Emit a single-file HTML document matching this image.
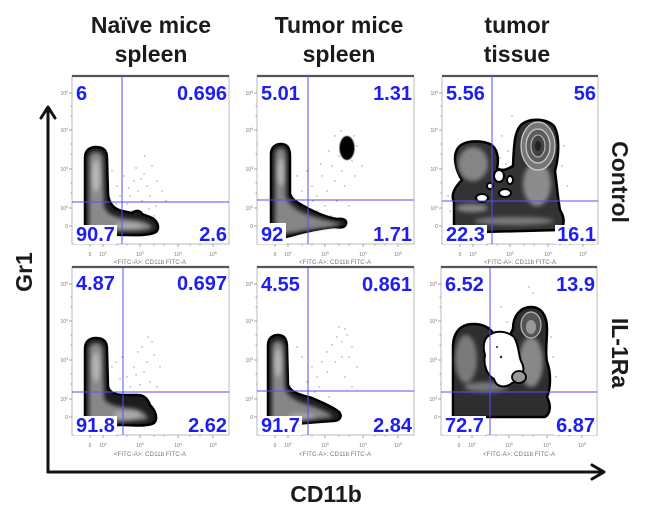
<!DOCTYPE html>
<html><head><meta charset="utf-8"><style>
html,body{margin:0;padding:0;background:#fff;}
svg{display:block;}
.t{font-family:"Liberation Sans",Arial,sans-serif;font-weight:bold;fill:#1b1b1b;font-size:23px;}
.q{font-family:"Liberation Sans",Arial,sans-serif;font-weight:bold;fill:#1e1ef0;font-size:20px;}
.k{font-family:"Liberation Sans",Arial,sans-serif;fill:#777;font-size:5px;}
.ax{font-family:"Liberation Sans",Arial,sans-serif;fill:#777;font-size:6.3px;}
</style></head><body>
<svg width="654" height="516" viewBox="0 0 654 516" xmlns="http://www.w3.org/2000/svg">
<defs>
<filter id="b" x="-20%" y="-20%" width="140%" height="140%"><feGaussianBlur stdDeviation="2"/></filter>
<filter id="b1" x="-20%" y="-20%" width="140%" height="140%"><feGaussianBlur stdDeviation="0.6"/></filter>
</defs>
<rect width="654" height="516" fill="#fff"/>

<!-- Titles -->
<text class="t" x="151" y="33" text-anchor="middle">Naïve mice</text>
<text class="t" x="151" y="62" text-anchor="middle">spleen</text>
<text class="t" x="339" y="33" text-anchor="middle">Tumor mice</text>
<text class="t" x="339" y="62" text-anchor="middle">spleen</text>
<text class="t" x="517" y="33" text-anchor="middle">tumor</text>
<text class="t" x="517" y="62" text-anchor="middle">tissue</text>

<!-- Row labels -->
<text class="t" transform="translate(612,182) rotate(90)" text-anchor="middle">Control</text>
<text class="t" transform="translate(612,353) rotate(90)" text-anchor="middle">IL-1Ra</text>
<text class="t" transform="translate(32,272) rotate(-90)" text-anchor="middle">Gr1</text>
<text class="t" x="326" y="502" text-anchor="middle">CD11b</text>

<!-- Big axes -->
<g stroke="#111" stroke-width="3" fill="none" stroke-linecap="round" stroke-linejoin="round">
<path d="M48,472 L48,108"/>
<path d="M41,118 L48,107 L55,118"/>
<path d="M48,472 L603,472"/>
<path d="M592,465 L604,472 L592,479"/>
</g>

<!-- ================= PANEL 1 (naive, control) ================= -->
<g transform="translate(72,76)">
<rect x="0" y="0" width="157" height="168" fill="#fff" stroke="#aaa" stroke-width="0.8"/>
<line x1="0" y1="0" x2="157" y2="0" stroke="#555" stroke-width="2.2"/>
<g stroke="#888" stroke-width="0.7">
<path d="M0,17 h-3 M0,54 h-3 M0,93 h-3 M0,132 h-3 M0,150 h-3 M18,168 v3 M31,168 v3 M68,168 v3 M106,168 v3 M141,168 v3"/>
<path d="M0,30 h-1.5 M0,40 h-1.5 M0,68 h-1.5 M0,78 h-1.5 M0,107 h-1.5 M0,117 h-1.5 M45,168 v1.5 M55,168 v1.5 M82,168 v1.5 M92,168 v1.5 M118,168 v1.5 M128,168 v1.5"/>
</g>
<g fill="#999">
<circle cx="40" cy="95" r="0.7"/><circle cx="45" cy="110" r="0.7"/><circle cx="52" cy="100" r="0.7"/><circle cx="58" cy="120" r="0.7"/><circle cx="62" cy="105" r="0.7"/><circle cx="66" cy="115" r="0.7"/><circle cx="70" cy="125" r="0.7"/><circle cx="72" cy="98" r="0.7"/><circle cx="75" cy="110" r="0.7"/><circle cx="78" cy="120" r="0.7"/><circle cx="80" cy="90" r="0.7"/><circle cx="84" cy="130" r="0.7"/><circle cx="60" cy="135" r="0.7"/><circle cx="55" cy="128" r="0.7"/><circle cx="68" cy="140" r="0.7"/><circle cx="48" cy="120" r="0.7"/><circle cx="90" cy="115" r="0.7"/><circle cx="73" cy="80" r="0.7"/><circle cx="85" cy="105" r="0.7"/><circle cx="64" cy="92" r="0.7"/><circle cx="57" cy="112" r="0.7"/><circle cx="77" cy="133" r="0.7"/><circle cx="82" cy="140" r="0.7"/><circle cx="69" cy="103" r="0.7"/><circle cx="94" cy="125" r="0.7"/><circle cx="40" cy="140" r="0.7"/><circle cx="44" cy="128" r="0.7"/>
</g>
<path d="M13,158 L13,82 C13,74 18,71 24,71 C31,71 35,74 35,82 L36,118 C37,128 42,133 50,135 L60,137 C64,134 68,134 70,138 L78,141 C86,144 88,152 84,156 C78,160 60,159 50,159 Z" fill="#1c1c1c" stroke="#000" stroke-width="2.5"/>
<g filter="url(#b)">
<path d="M17,155 L17,84 C17,78 20,76 24,76 C29,76 31,79 31,86 L32,130 C34,138 44,142 56,143 C66,144 76,146 80,150 C80,154 70,155 60,155 Z" fill="#8a8a8a"/>
<ellipse cx="24" cy="100" rx="4" ry="16" fill="#b8b8b8"/>
<ellipse cx="56" cy="150" rx="14" ry="3" fill="#aaa"/>
</g>
<line x1="50" y1="0" x2="50" y2="168" stroke="#5050ff" stroke-width="1"/>
<line x1="0" y1="126" x2="157" y2="126" stroke="#5050ff" stroke-width="1"/>
<rect x="3" y="5" width="15" height="20" fill="#fff"/>
<text class="q" x="4" y="24">6</text>
<text class="q" x="155" y="24" text-anchor="end">0.696</text>
<rect x="2" y="149" width="43" height="19" fill="#fff"/>
<text class="q" x="4" y="165">90.7</text>
<text class="q" x="155" y="165" text-anchor="end">2.6</text>
<g class="k" text-anchor="end">
<text x="-4" y="19">10<tspan dy="-2" font-size="3.5">5</tspan></text>
<text x="-4" y="56">10<tspan dy="-2" font-size="3.5">4</tspan></text>
<text x="-4" y="95">10<tspan dy="-2" font-size="3.5">3</tspan></text>
<text x="-4" y="134">10<tspan dy="-2" font-size="3.5">2</tspan></text>
<text x="-4" y="152">0</text>
</g>
<g class="k" text-anchor="middle">
<text x="18" y="180">0</text>
<text x="31" y="180">10<tspan dy="-2" font-size="3.5">2</tspan></text>
<text x="68" y="180">10<tspan dy="-2" font-size="3.5">3</tspan></text>
<text x="106" y="180">10<tspan dy="-2" font-size="3.5">4</tspan></text>
<text x="141" y="180">10<tspan dy="-2" font-size="3.5">5</tspan></text>
</g>
<text class="ax" x="78" y="188" text-anchor="middle">&lt;FITC-A&gt;: CD11b FITC-A</text>
</g>

<!-- ================= PANEL 2 (tumor spleen, control) ================= -->
<g transform="translate(257,76)">
<rect x="0" y="0" width="157" height="168" fill="#fff" stroke="#aaa" stroke-width="0.8"/>
<line x1="0" y1="0" x2="157" y2="0" stroke="#555" stroke-width="2.2"/>
<g stroke="#888" stroke-width="0.7">
<path d="M0,17 h-3 M0,54 h-3 M0,93 h-3 M0,132 h-3 M0,150 h-3 M18,168 v3 M31,168 v3 M68,168 v3 M106,168 v3 M141,168 v3"/>
<path d="M0,30 h-1.5 M0,40 h-1.5 M0,68 h-1.5 M0,78 h-1.5 M0,107 h-1.5 M0,117 h-1.5 M45,168 v1.5 M55,168 v1.5 M82,168 v1.5 M92,168 v1.5 M118,168 v1.5 M128,168 v1.5"/>
</g>
<g fill="#999">
<circle cx="40" cy="100" r="0.7"/><circle cx="50" cy="95" r="0.7"/><circle cx="55" cy="110" r="0.7"/><circle cx="60" cy="120" r="0.7"/><circle cx="65" cy="100" r="0.7"/><circle cx="70" cy="115" r="0.7"/><circle cx="75" cy="90" r="0.7"/><circle cx="78" cy="105" r="0.7"/><circle cx="80" cy="125" r="0.7"/><circle cx="85" cy="95" r="0.7"/><circle cx="95" cy="85" r="0.7"/><circle cx="100" cy="70" r="0.7"/><circle cx="78" cy="60" r="0.7"/><circle cx="72" cy="75" r="0.7"/><circle cx="105" cy="90" r="0.7"/><circle cx="60" cy="135" r="0.7"/><circle cx="68" cy="130" r="0.7"/><circle cx="88" cy="110" r="0.7"/><circle cx="45" cy="115" r="0.7"/><circle cx="92" cy="130" r="0.7"/><circle cx="82" cy="80" r="0.7"/><circle cx="64" cy="88" r="0.7"/><circle cx="98" cy="100" r="0.7"/><circle cx="74" cy="140" r="0.7"/><circle cx="56" cy="125" r="0.7"/><circle cx="97" cy="60" r="0.7"/><circle cx="84" cy="55" r="0.7"/>
</g>
<path d="M14,162 L14,78 C14,71 19,68 24,68 C30,68 33,72 33,80 L33,118 C36,126 44,128 52,133 C62,138 72,142 80,143 C86,142 90,144 89,148 C88,152 83,152 78,151 C66,152 52,155 40,158 C30,161 20,163 14,162 Z" fill="#1c1c1c" stroke="#000" stroke-width="2.5"/>
<g filter="url(#b)">
<path d="M18,158 L18,80 C18,74 21,72 24,72 C28,72 29,76 29,82 L29,120 C32,130 42,136 55,140 C66,144 78,146 84,148 C78,152 60,152 45,155 C35,157 25,158 18,158 Z" fill="#858585"/>
<ellipse cx="24" cy="96" rx="4" ry="14" fill="#b0b0b0"/>
</g>
<ellipse cx="90" cy="72" rx="7.5" ry="12" fill="#000" filter="url(#b1)"/>
<line x1="51" y1="0" x2="51" y2="168" stroke="#5050ff" stroke-width="1"/>
<line x1="0" y1="124" x2="157" y2="124" stroke="#5050ff" stroke-width="1"/>
<rect x="2" y="5" width="44" height="20" fill="#fff"/>
<text class="q" x="4" y="24">5.01</text>
<text class="q" x="155" y="24" text-anchor="end">1.31</text>
<rect x="1" y="147" width="28" height="21" fill="#fff"/>
<text class="q" x="4" y="165">92</text>
<text class="q" x="155" y="165" text-anchor="end">1.71</text>
<g class="k" text-anchor="end">
<text x="-4" y="19">10<tspan dy="-2" font-size="3.5">5</tspan></text>
<text x="-4" y="56">10<tspan dy="-2" font-size="3.5">4</tspan></text>
<text x="-4" y="95">10<tspan dy="-2" font-size="3.5">3</tspan></text>
<text x="-4" y="134">10<tspan dy="-2" font-size="3.5">2</tspan></text>
<text x="-4" y="152">0</text>
</g>
<g class="k" text-anchor="middle">
<text x="18" y="180">0</text>
<text x="31" y="180">10<tspan dy="-2" font-size="3.5">2</tspan></text>
<text x="68" y="180">10<tspan dy="-2" font-size="3.5">3</tspan></text>
<text x="106" y="180">10<tspan dy="-2" font-size="3.5">4</tspan></text>
<text x="141" y="180">10<tspan dy="-2" font-size="3.5">5</tspan></text>
</g>
<text class="ax" x="78" y="188" text-anchor="middle">&lt;FITC-A&gt;: CD11b FITC-A</text>
</g>

<!-- ================= PANEL 3 (tumor tissue, control) ================= -->
<g transform="translate(442,76)">
<rect x="0" y="0" width="156" height="168" fill="#fff" stroke="#aaa" stroke-width="0.8"/>
<line x1="0" y1="0" x2="156" y2="0" stroke="#555" stroke-width="2.2"/>
<g stroke="#888" stroke-width="0.7">
<path d="M0,17 h-3 M0,54 h-3 M0,93 h-3 M0,132 h-3 M0,150 h-3 M18,168 v3 M31,168 v3 M68,168 v3 M106,168 v3 M141,168 v3"/>
<path d="M0,30 h-1.5 M0,40 h-1.5 M0,68 h-1.5 M0,78 h-1.5 M0,107 h-1.5 M0,117 h-1.5 M45,168 v1.5 M55,168 v1.5 M82,168 v1.5 M92,168 v1.5 M118,168 v1.5 M128,168 v1.5"/>
</g>
<g fill="#999">
<circle cx="60" cy="60" r="0.7"/><circle cx="66" cy="75" r="0.7"/><circle cx="58" cy="82" r="0.7"/><circle cx="120" cy="90" r="0.7"/><circle cx="125" cy="110" r="0.7"/><circle cx="70" cy="40" r="0.7"/><circle cx="122" cy="70" r="0.7"/><circle cx="64" cy="88" r="0.7"/><circle cx="118" cy="128" r="0.7"/><circle cx="6" cy="120" r="0.7"/><circle cx="8" cy="135" r="0.7"/>
</g>
<path d="M12,156 L12,126 C8,118 14,110 20,104 C14,95 10,80 16,72 C22,64 38,64 48,68 C56,72 57,84 55,92 C60,96 66,93 71,90 C72,70 72,55 80,48 C88,42 104,42 112,50 C118,60 117,80 113,95 C115,110 116,124 118,134 C123,142 123,150 117,154 L40,156 Z" fill="#333" stroke="#000" stroke-width="2.5"/>
<g filter="url(#b)">
<ellipse cx="31" cy="88" rx="15" ry="17" fill="#858585"/>
<ellipse cx="72" cy="145" rx="40" ry="4" fill="#7a7a7a"/>
<ellipse cx="95" cy="108" rx="14" ry="22" fill="#8c8c8c"/>
<ellipse cx="30" cy="132" rx="16" ry="4" fill="#888"/>
</g>
<ellipse cx="96" cy="70" rx="17" ry="24" fill="#777" stroke="#ccc" stroke-width="1.2"/>
<ellipse cx="96" cy="70" rx="12" ry="17" fill="#5c5c5c" stroke="#ccc" stroke-width="1.2"/>
<ellipse cx="96" cy="70" rx="7" ry="11" fill="#444" stroke="#bbb" stroke-width="1.1"/>
<ellipse cx="96" cy="70" rx="3" ry="5" fill="#222"/>
<g fill="#fff" stroke="#000" stroke-width="2">
<ellipse cx="57" cy="100" rx="5" ry="6"/>
<ellipse cx="63" cy="117" rx="6" ry="4"/>
<ellipse cx="40" cy="122" rx="6" ry="4"/>
<ellipse cx="48" cy="110" rx="3" ry="3"/>
<ellipse cx="68" cy="104" rx="3" ry="4"/>
</g>
<line x1="50" y1="0" x2="50" y2="168" stroke="#5050ff" stroke-width="1"/>
<line x1="0" y1="125" x2="156" y2="125" stroke="#5050ff" stroke-width="1"/>
<rect x="2" y="5" width="44" height="20" fill="#fff"/>
<text class="q" x="4" y="24">5.56</text>
<text class="q" x="154" y="24" text-anchor="end">56</text>
<rect x="2" y="149" width="43" height="19" fill="#fff"/>
<text class="q" x="4" y="165">22.3</text>
<rect x="113" y="149" width="42" height="19" fill="#fff"/>
<text class="q" x="154" y="165" text-anchor="end">16.1</text>
<g class="k" text-anchor="end">
<text x="-4" y="19">10<tspan dy="-2" font-size="3.5">5</tspan></text>
<text x="-4" y="56">10<tspan dy="-2" font-size="3.5">4</tspan></text>
<text x="-4" y="95">10<tspan dy="-2" font-size="3.5">3</tspan></text>
<text x="-4" y="134">10<tspan dy="-2" font-size="3.5">2</tspan></text>
<text x="-4" y="152">0</text>
</g>
<g class="k" text-anchor="middle">
<text x="18" y="180">0</text>
<text x="31" y="180">10<tspan dy="-2" font-size="3.5">2</tspan></text>
<text x="68" y="180">10<tspan dy="-2" font-size="3.5">3</tspan></text>
<text x="106" y="180">10<tspan dy="-2" font-size="3.5">4</tspan></text>
<text x="141" y="180">10<tspan dy="-2" font-size="3.5">5</tspan></text>
</g>
<text class="ax" x="78" y="188" text-anchor="middle">&lt;FITC-A&gt;: CD11b FITC-A</text>
</g>

<!-- ================= PANEL 4 (naive, IL-1Ra) ================= -->
<g transform="translate(72,267)">
<rect x="0" y="0" width="157" height="168" fill="#fff" stroke="#aaa" stroke-width="0.8"/>
<line x1="0" y1="0" x2="157" y2="0" stroke="#555" stroke-width="2.2"/>
<g stroke="#888" stroke-width="0.7">
<path d="M0,17 h-3 M0,54 h-3 M0,93 h-3 M0,132 h-3 M0,150 h-3 M18,168 v3 M31,168 v3 M68,168 v3 M106,168 v3 M141,168 v3"/>
<path d="M0,30 h-1.5 M0,40 h-1.5 M0,68 h-1.5 M0,78 h-1.5 M0,107 h-1.5 M0,117 h-1.5 M45,168 v1.5 M55,168 v1.5 M82,168 v1.5 M92,168 v1.5 M118,168 v1.5 M128,168 v1.5"/>
</g>
<g fill="#999">
<circle cx="40" cy="100" r="0.7"/><circle cx="50" cy="90" r="0.7"/><circle cx="55" cy="110" r="0.7"/><circle cx="58" cy="120" r="0.7"/><circle cx="62" cy="100" r="0.7"/><circle cx="66" cy="85" r="0.7"/><circle cx="70" cy="80" r="0.7"/><circle cx="72" cy="105" r="0.7"/><circle cx="75" cy="95" r="0.7"/><circle cx="78" cy="115" r="0.7"/><circle cx="80" cy="75" r="0.7"/><circle cx="85" cy="120" r="0.7"/><circle cx="60" cy="130" r="0.7"/><circle cx="52" cy="125" r="0.7"/><circle cx="68" cy="118" r="0.7"/><circle cx="48" cy="112" r="0.7"/><circle cx="88" cy="100" r="0.7"/><circle cx="76" cy="70" r="0.7"/><circle cx="82" cy="88" r="0.7"/><circle cx="64" cy="108" r="0.7"/><circle cx="44" cy="95" r="0.7"/>
</g>
<path d="M13,158 L13,82 C13,74 18,71 24,71 C31,71 35,74 35,82 L36,120 C38,126 44,128 52,128 L66,128 C73,128 76,133 78,138 C84,144 86,152 82,156 C76,160 60,158 50,158 Z" fill="#1c1c1c" stroke="#000" stroke-width="2.5"/>
<g filter="url(#b)">
<path d="M17,156 L17,84 C17,78 20,76 24,76 C29,76 31,79 31,86 L32,132 C36,138 46,140 58,141 C68,142 74,146 76,152 C66,154 50,155 17,156 Z" fill="#888"/>
<ellipse cx="24" cy="100" rx="4" ry="15" fill="#b4b4b4"/>
<ellipse cx="55" cy="148" rx="14" ry="4" fill="#aaa"/>
</g>
<line x1="51" y1="0" x2="51" y2="168" stroke="#5050ff" stroke-width="1"/>
<line x1="0" y1="125" x2="157" y2="125" stroke="#5050ff" stroke-width="1"/>
<rect x="2" y="5" width="44" height="20" fill="#fff"/>
<text class="q" x="4" y="23">4.87</text>
<text class="q" x="155" y="23" text-anchor="end">0.697</text>
<rect x="2" y="149" width="43" height="19" fill="#fff"/>
<text class="q" x="4" y="165">91.8</text>
<text class="q" x="155" y="165" text-anchor="end">2.62</text>
<g class="k" text-anchor="end">
<text x="-4" y="19">10<tspan dy="-2" font-size="3.5">5</tspan></text>
<text x="-4" y="56">10<tspan dy="-2" font-size="3.5">4</tspan></text>
<text x="-4" y="95">10<tspan dy="-2" font-size="3.5">3</tspan></text>
<text x="-4" y="134">10<tspan dy="-2" font-size="3.5">2</tspan></text>
<text x="-4" y="152">0</text>
</g>
<g class="k" text-anchor="middle">
<text x="18" y="180">0</text>
<text x="31" y="180">10<tspan dy="-2" font-size="3.5">2</tspan></text>
<text x="68" y="180">10<tspan dy="-2" font-size="3.5">3</tspan></text>
<text x="106" y="180">10<tspan dy="-2" font-size="3.5">4</tspan></text>
<text x="141" y="180">10<tspan dy="-2" font-size="3.5">5</tspan></text>
</g>
<text class="ax" x="78" y="189" text-anchor="middle">&lt;FITC-A&gt;: CD11b FITC-A</text>
</g>

<!-- ================= PANEL 5 (tumor spleen, IL-1Ra) ================= -->
<g transform="translate(257,267)">
<rect x="0" y="0" width="157" height="168" fill="#fff" stroke="#aaa" stroke-width="0.8"/>
<line x1="0" y1="0" x2="157" y2="0" stroke="#555" stroke-width="2.2"/>
<g stroke="#888" stroke-width="0.7">
<path d="M0,17 h-3 M0,54 h-3 M0,93 h-3 M0,132 h-3 M0,150 h-3 M18,168 v3 M31,168 v3 M68,168 v3 M106,168 v3 M141,168 v3"/>
<path d="M0,30 h-1.5 M0,40 h-1.5 M0,68 h-1.5 M0,78 h-1.5 M0,107 h-1.5 M0,117 h-1.5 M45,168 v1.5 M55,168 v1.5 M82,168 v1.5 M92,168 v1.5 M118,168 v1.5 M128,168 v1.5"/>
</g>
<g fill="#999">
<circle cx="45" cy="90" r="0.7"/><circle cx="55" cy="100" r="0.7"/><circle cx="60" cy="110" r="0.7"/><circle cx="65" cy="95" r="0.7"/><circle cx="70" cy="85" r="0.7"/><circle cx="75" cy="78" r="0.7"/><circle cx="80" cy="70" r="0.7"/><circle cx="85" cy="75" r="0.7"/><circle cx="90" cy="68" r="0.7"/><circle cx="95" cy="80" r="0.7"/><circle cx="62" cy="120" r="0.7"/><circle cx="70" cy="105" r="0.7"/><circle cx="78" cy="95" r="0.7"/><circle cx="85" cy="90" r="0.7"/><circle cx="88" cy="110" r="0.7"/><circle cx="50" cy="115" r="0.7"/><circle cx="58" cy="125" r="0.7"/><circle cx="95" cy="120" r="0.7"/><circle cx="100" cy="100" r="0.7"/><circle cx="72" cy="130" r="0.7"/><circle cx="82" cy="60" r="0.7"/><circle cx="92" cy="90" r="0.7"/><circle cx="88" cy="62" r="0.7"/><circle cx="40" cy="80" r="0.7"/>
</g>
<path d="M11,158 L11,78 C11,71 16,68 21,68 C27,68 30,72 30,80 L31,118 C34,126 44,128 55,131 C66,136 76,140 82,145 C86,150 82,154 76,154 C60,155 45,156 30,158 Z" fill="#1c1c1c" stroke="#000" stroke-width="2.5"/>
<g filter="url(#b)">
<path d="M15,156 L15,82 C15,76 18,74 21,74 C25,74 27,78 27,84 L28,122 C32,132 45,136 58,140 C68,144 74,147 76,150 C60,152 40,154 15,156 Z" fill="#868686"/>
<ellipse cx="21" cy="96" rx="4" ry="14" fill="#b2b2b2"/>
<ellipse cx="45" cy="150" rx="14" ry="3" fill="#aaa"/>
</g>
<line x1="51" y1="0" x2="51" y2="168" stroke="#5050ff" stroke-width="1"/>
<line x1="0" y1="124" x2="157" y2="124" stroke="#5050ff" stroke-width="1"/>
<rect x="2" y="5" width="44" height="20" fill="#fff"/>
<text class="q" x="4" y="24">4.55</text>
<text class="q" x="155" y="24" text-anchor="end">0.861</text>
<rect x="2" y="149" width="43" height="19" fill="#fff"/>
<text class="q" x="4" y="165">91.7</text>
<text class="q" x="155" y="165" text-anchor="end">2.84</text>
<g class="k" text-anchor="end">
<text x="-4" y="19">10<tspan dy="-2" font-size="3.5">5</tspan></text>
<text x="-4" y="56">10<tspan dy="-2" font-size="3.5">4</tspan></text>
<text x="-4" y="95">10<tspan dy="-2" font-size="3.5">3</tspan></text>
<text x="-4" y="134">10<tspan dy="-2" font-size="3.5">2</tspan></text>
<text x="-4" y="152">0</text>
</g>
<g class="k" text-anchor="middle">
<text x="18" y="180">0</text>
<text x="31" y="180">10<tspan dy="-2" font-size="3.5">2</tspan></text>
<text x="68" y="180">10<tspan dy="-2" font-size="3.5">3</tspan></text>
<text x="106" y="180">10<tspan dy="-2" font-size="3.5">4</tspan></text>
<text x="141" y="180">10<tspan dy="-2" font-size="3.5">5</tspan></text>
</g>
<text class="ax" x="78" y="189" text-anchor="middle">&lt;FITC-A&gt;: CD11b FITC-A</text>
</g>

<!-- ================= PANEL 6 (tumor tissue, IL-1Ra) ================= -->
<g transform="translate(441,267)">
<rect x="0" y="0" width="156" height="168" fill="#fff" stroke="#aaa" stroke-width="0.8"/>
<line x1="0" y1="0" x2="156" y2="0" stroke="#555" stroke-width="2.2"/>
<g stroke="#888" stroke-width="0.7">
<path d="M0,17 h-3 M0,54 h-3 M0,93 h-3 M0,132 h-3 M0,150 h-3 M18,168 v3 M31,168 v3 M68,168 v3 M106,168 v3 M141,168 v3"/>
<path d="M0,30 h-1.5 M0,40 h-1.5 M0,68 h-1.5 M0,78 h-1.5 M0,107 h-1.5 M0,117 h-1.5 M45,168 v1.5 M55,168 v1.5 M82,168 v1.5 M92,168 v1.5 M118,168 v1.5 M128,168 v1.5"/>
</g>
<g fill="#999">
<circle cx="88" cy="20" r="0.7"/><circle cx="92" cy="26" r="0.7"/><circle cx="60" cy="40" r="0.7"/><circle cx="112" cy="90" r="0.7"/><circle cx="115" cy="110" r="0.7"/><circle cx="66" cy="55" r="0.7"/><circle cx="110" cy="70" r="0.7"/>
</g>
<path d="M12,150 L12,80 C12,65 20,57 32,57 C42,57 48,60 52,66 C58,64 64,66 68,70 L72,62 C72,48 80,40 90,40 C100,40 106,48 106,62 C106,75 104,85 106,95 C110,105 110,120 106,130 C110,138 110,146 104,150 Z" fill="#2e2e2e" stroke="#000" stroke-width="2.5"/>
<g filter="url(#b)">
<ellipse cx="25" cy="92" rx="11" ry="24" fill="#7a7a7a"/>
<ellipse cx="90" cy="95" rx="12" ry="25" fill="#888"/>
<ellipse cx="45" cy="120" rx="22" ry="5" fill="#777"/>
</g>
<ellipse cx="90" cy="58" rx="10" ry="13" fill="#555" stroke="#bbb" stroke-width="1.2"/>
<ellipse cx="90" cy="60" rx="5" ry="7" fill="#999"/>
<path d="M46,70 C54,62 66,64 73,70 C79,80 77,90 81,96 C85,104 80,114 71,116 C64,122 55,120 53,112 C46,108 42,98 44,88 C42,82 42,75 46,70 Z" fill="#fff" stroke="#000" stroke-width="2"/>
<ellipse cx="78" cy="110" rx="7" ry="6" fill="#999" stroke="#000" stroke-width="1.8"/>
<circle cx="60" cy="90" r="1.2" fill="#222"/>
<circle cx="56" cy="80" r="1" fill="#222"/>
<line x1="49" y1="0" x2="49" y2="168" stroke="#5050ff" stroke-width="1"/>
<line x1="0" y1="125" x2="156" y2="125" stroke="#5050ff" stroke-width="1"/>
<rect x="2" y="5" width="44" height="20" fill="#fff"/>
<text class="q" x="4" y="24">6.52</text>
<text class="q" x="154" y="24" text-anchor="end">13.9</text>
<rect x="2" y="149" width="43" height="19" fill="#fff"/>
<text class="q" x="4" y="165">72.7</text>
<rect x="113" y="149" width="42" height="19" fill="#fff"/>
<text class="q" x="154" y="165" text-anchor="end">6.87</text>
<g class="k" text-anchor="end">
<text x="-4" y="19">10<tspan dy="-2" font-size="3.5">5</tspan></text>
<text x="-4" y="56">10<tspan dy="-2" font-size="3.5">4</tspan></text>
<text x="-4" y="95">10<tspan dy="-2" font-size="3.5">3</tspan></text>
<text x="-4" y="134">10<tspan dy="-2" font-size="3.5">2</tspan></text>
<text x="-4" y="152">0</text>
</g>
<g class="k" text-anchor="middle">
<text x="18" y="180">0</text>
<text x="31" y="180">10<tspan dy="-2" font-size="3.5">2</tspan></text>
<text x="68" y="180">10<tspan dy="-2" font-size="3.5">3</tspan></text>
<text x="106" y="180">10<tspan dy="-2" font-size="3.5">4</tspan></text>
<text x="141" y="180">10<tspan dy="-2" font-size="3.5">5</tspan></text>
</g>
<text class="ax" x="78" y="189" text-anchor="middle">&lt;FITC-A&gt;: CD11b FITC-A</text>
</g>

</svg>
</body></html>
